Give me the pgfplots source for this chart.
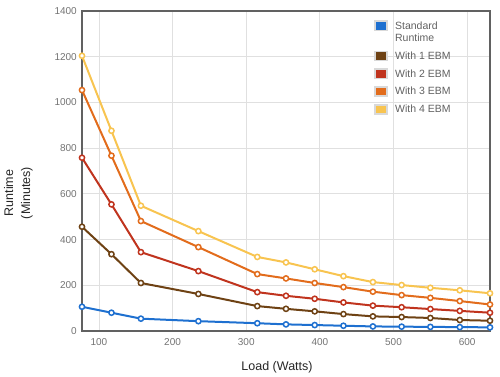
\documentclass[border=0pt]{standalone}
\usepackage{pgfplots}
\pgfplotsset{compat=1.18}
\usepackage{fontspec}
\setmainfont{Liberation Sans}
\definecolor{cBlue}{RGB}{30,112,208}
\definecolor{cBrown}{RGB}{110,66,20}
\definecolor{cRed}{RGB}{192,52,30}
\definecolor{cOrange}{RGB}{226,108,28}
\definecolor{cYellow}{RGB}{248,196,80}
\pgfplotsset{sqleg/.style={legend image code/.code={\draw[draw=black!15,line width=1.6pt,fill=#1] (0.8pt,-1.2pt) rectangle (13.2pt,8pt); \path[draw=none] (0pt,0pt) -- (20pt,0pt);}},
  sqlegdown/.style={legend image code/.code={\path[draw=none] (0pt,-2pt) rectangle (20pt,8.8pt); \draw[overlay,draw=black!15,line width=1.6pt,fill=#1] (0.8pt,-6.5pt) rectangle (13.2pt,2.7pt);}}}
\begin{document}
\begin{tikzpicture}
\useasboundingbox (-82pt,-46pt) rectangle (418pt,331pt);
\begin{axis}[
  at={(0,0)}, anchor=south west,
  scale only axis, width=408pt, height=320pt,
  xmin=77, xmax=631, ymin=0, ymax=1400,
  xtick={100,200,...,600}, ytick={0,200,...,1400},
  grid=major, grid style={draw=black!12, line width=0.8pt},
  axis line style={draw=black!62, line width=1.6pt},
  tick style={draw=none}, major tick length=0pt,
  ticklabel style={font=\fontsize{10}{12}\selectfont, text=black!55},
  /pgf/number format/assume math mode=true,
  /pgf/number format/1000 sep={},
  xticklabel style={yshift=-4pt},
  yticklabel style={xshift=-1.7pt},
  xlabel={Load (Watts)}, ylabel={Runtime\\(Minutes)},
  label style={font=\fontsize{12.5}{17}\selectfont, text=black!85},
  xlabel style={at={(axis description cs:0.478,-0.112)}, anchor=center},
  ylabel style={at={(axis description cs:-0.156,0.431)}, anchor=center, align=center},
  legend style={draw=none, fill=none, inner sep=0pt, at={(rel axis cs:0.715,0.9875)}, anchor=north west,
    font=\fontsize{10.5}{12}\selectfont, text=black!62, row sep=5.77pt,
    nodes={inner sep=1.2pt, text height=7.5pt, text depth=2pt}, cells={anchor=base west}},
  every axis plot/.append style={line width=2pt, mark=*, mark size=2.6pt,
    mark options={fill=white, line width=1.5pt, solid}},
]
\addplot[cBlue, sqlegdown=cBlue] coordinates {(77,106) (117,80) (157,54) (235,43) (315,34) (354,29) (393,26) (432,23) (472,20) (511,19) (550,18) (590,17) (631,16)};
\addlegendentry{\raisebox{-5.3pt}{Standard}}
\addlegendimage{empty legend}
\addlegendentry{Runtime}
\addplot[cBrown, sqleg=cBrown] coordinates {(77,456) (117,336) (157,210) (235,162) (315,109) (354,97) (393,86) (432,74) (472,64) (511,61) (550,57) (590,48) (631,45)};
\addlegendentry{With 1 EBM}
\addplot[cRed, sqleg=cRed] coordinates {(77,758) (117,554) (157,345) (235,262) (315,170) (354,154) (393,141) (432,125) (472,111) (511,104) (550,96) (590,88) (631,80)};
\addlegendentry{With 2 EBM}
\addplot[cOrange, sqleg=cOrange] coordinates {(77,1054) (117,767) (157,481) (235,367) (315,249) (354,230) (393,210) (432,192) (472,172) (511,157) (550,145) (590,131) (631,116)};
\addlegendentry{With 3 EBM}
\addplot[cYellow, sqleg=cYellow] coordinates {(77,1204) (117,876) (157,548) (235,437) (315,324) (354,300) (393,270) (432,240) (472,214) (511,201) (550,189) (590,178) (631,165)};
\addlegendentry{With 4 EBM}
\end{axis}
\end{tikzpicture}
\end{document}
